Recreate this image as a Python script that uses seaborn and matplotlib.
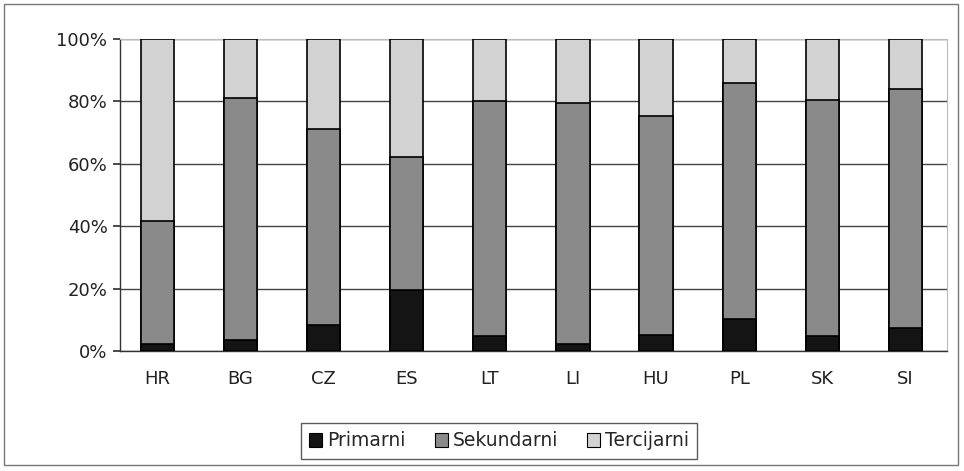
import matplotlib
matplotlib.use("Agg")
import matplotlib.pyplot as plt
import seaborn as sns
import numpy as np
import pandas as pd
from matplotlib.patches import Rectangle, Patch

countries = ["HR", "BG", "CZ", "ES", "LT", "LI", "HU", "PL", "SK", "SI"]
primarni = [2.2, 3.5, 8.2, 19.5, 4.8, 2.4, 5.2, 10.4, 4.8, 7.5]
sekundarni = [39.6, 77.6, 63.0, 42.6, 75.2, 77.1, 70.2, 75.5, 75.7, 76.5]
tercijarni = [58.2, 18.9, 28.8, 37.9, 20.0, 20.5, 24.6, 14.1, 19.5, 16.0]
series_names = ["Primarni", "Sekundarni", "Tercijarni"]
colors = ["#141414", "#8a8a8a", "#d2d2d2"]
yticks = [0, 20, 40, 60, 80, 100]

sns.set_theme(style="white")
plt.rcParams["font.family"] = ["DejaVu Sans"]

df = pd.DataFrame({"country": countries, "p": primarni, "s": sekundarni, "t": tercijarni})
df["c2"] = df["p"] + df["s"]
df["c3"] = df["c2"] + df["t"]

fig = plt.figure(figsize=(9.64, 4.71), dpi=100)
ax = fig.add_axes([120 / 964, 1 - 351 / 471, (947 - 120) / 964, (351 - 39) / 471])

for col, c in zip(["c3", "c2", "p"], colors[::-1]):
    sns.barplot(data=df, x="country", y=col, color=c, width=0.4, edgecolor="black",
                linewidth=1.2, saturation=1, ax=ax, zorder=3)

ax.set_ylim(0, 100)
ax.set_xlim(-0.45, len(countries) - 0.5)
ax.set_yticks(yticks)
ax.set_yticklabels([f"{v}%" for v in yticks], fontsize=13, color="#222222")
ax.set_xticklabels(countries, fontsize=13, color="#222222")
ax.set_xlabel("")
ax.set_ylabel("")
ax.grid(axis="y", color="#444444", linewidth=1.0, zorder=0)
ax.set_axisbelow(True)
for s in ["top", "right"]:
    ax.spines[s].set_color("#bbbbbb")
    ax.spines[s].set_linewidth(0.8)
for s in ["left", "bottom"]:
    ax.spines[s].set_color("#333333")
    ax.spines[s].set_linewidth(1.0)

# x ticks at category boundaries
ax.set_xticks(np.arange(len(countries)), minor=False)
ax.tick_params(axis="x", which="major", length=0, pad=14)
ax.set_xticks(np.arange(len(countries)) + 0.5, minor=True)
ax.tick_params(axis="x", which="minor", length=5, color="#333333", direction="out")
ax.tick_params(axis="y", length=5, color="#333333", direction="out", left=True, pad=4)

handles = [Patch(facecolor=c, edgecolor="black", linewidth=0.8) for c in colors]
leg = fig.legend(handles, series_names, loc="center", bbox_to_anchor=(499 / 964, 1 - 441 / 471),
                 ncol=3, frameon=True, fancybox=False, fontsize=13.5, handlelength=0.7,
                 handleheight=0.7, handletextpad=0.25, columnspacing=1.55, borderpad=0.45)
leg.get_frame().set_edgecolor("#333333")
leg.get_frame().set_linewidth(1.0)

fig.patches.append(Rectangle((4 / 964, 6 / 471), (958 - 4) / 964, (467 - 6) / 471,
                             transform=fig.transFigure, fill=False, edgecolor="#777777",
                             linewidth=1.0))

fig.savefig("out.png", dpi=100, facecolor="white")
